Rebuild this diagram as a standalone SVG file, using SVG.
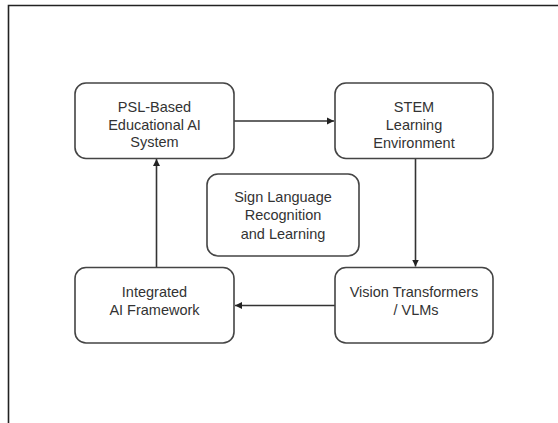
<svg xmlns="http://www.w3.org/2000/svg" width="558" height="423" viewBox="0 0 558 423">
  <style>
    .box { fill: #ffffff; stroke: #444444; stroke-width: 1.6; }
    .lbl { font-family: "Liberation Sans", Arial, sans-serif; font-size: 14.5px; fill: #333333; text-anchor: middle; }
    .edge { stroke: #333333; stroke-width: 1.6; fill: none; marker-end: url(#arrow); }
  </style>
  <defs>
    <marker id="arrow" markerWidth="8" markerHeight="8" refX="7" refY="4" orient="auto" markerUnits="userSpaceOnUse">
      <path d="M0,0.5 L7,4 L0,7.5 Z" fill="#222222"/>
    </marker>
  </defs>

  <rect width="558" height="423" fill="#ffffff"/>
  <!-- frame: top and left edges -->
  <path d="M8.5,423 V5.5 H558" fill="none" stroke="#222222" stroke-width="1.6"/>

  <g id="connectors">
    <line class="edge" x1="234" y1="121" x2="334" y2="121"/>
    <line class="edge" x1="415.5" y1="159" x2="415.5" y2="266.5"/>
    <line class="edge" x1="335" y1="305.5" x2="235" y2="305.5"/>
    <line class="edge" x1="156.5" y1="267" x2="156.5" y2="159"/>
  </g>

  <g id="psl-system">
    <rect class="box" x="75" y="83" width="159" height="75.5" rx="11"/>
    <text class="lbl" x="154.5" y="112">PSL-Based</text>
    <text class="lbl" x="154.5" y="129.5">Educational AI</text>
    <text class="lbl" x="154.5" y="147">System</text>
  </g>

  <g id="stem-environment">
    <rect class="box" x="335" y="83" width="158" height="75.5" rx="11"/>
    <text class="lbl" x="414" y="112">STEM</text>
    <text class="lbl" x="414" y="130">Learning</text>
    <text class="lbl" x="414" y="148">Environment</text>
  </g>

  <g id="sign-language">
    <rect class="box" x="207" y="174" width="152" height="82" rx="11"/>
    <text class="lbl" x="283" y="202">Sign Language</text>
    <text class="lbl" x="283" y="220">Recognition</text>
    <text class="lbl" x="283" y="238.5">and Learning</text>
  </g>

  <g id="vision-transformers">
    <rect class="box" x="335" y="267.5" width="158" height="75.5" rx="11"/>
    <text class="lbl" x="414" y="297">Vision Transformers</text>
    <text class="lbl" x="416" y="315">/ VLMs</text>
  </g>

  <g id="integrated-framework">
    <rect class="box" x="75" y="267.5" width="159" height="75.5" rx="11"/>
    <text class="lbl" x="154.5" y="297">Integrated</text>
    <text class="lbl" x="154.5" y="315">AI Framework</text>
  </g>
</svg>
